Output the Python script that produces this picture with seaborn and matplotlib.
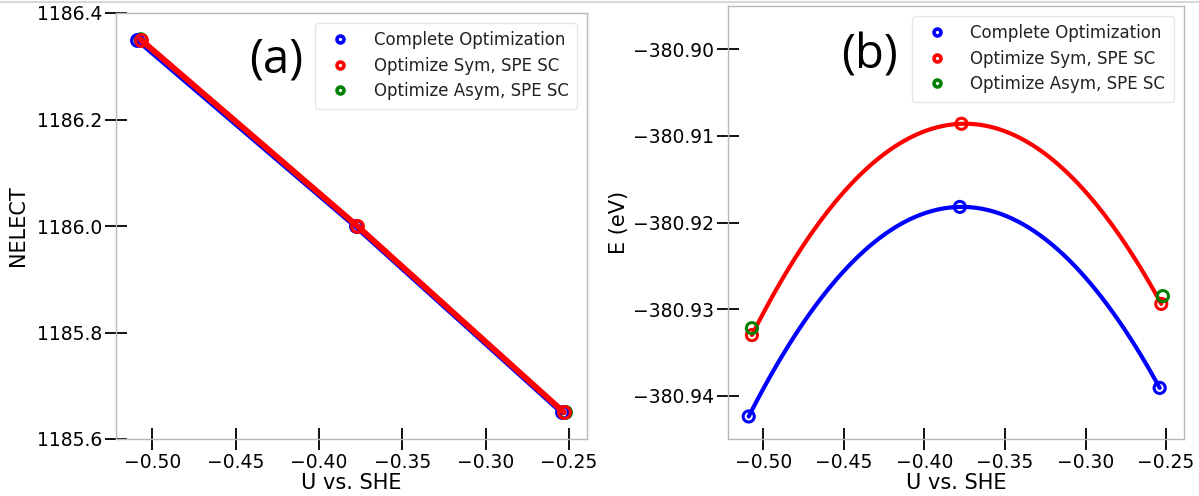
import numpy as np
import pandas as pd
import seaborn as sns
import matplotlib
matplotlib.use("Agg")
import matplotlib.pyplot as plt
from matplotlib.lines import Line2D

# ---- data ----
series_names = ["Complete Optimization", "Optimize Sym, SPE SC", "Optimize Asym, SPE SC"]
series_colors = ["blue", "red", "green"]

u_complete = [-0.509, -0.378, -0.254]
u_sym = [-0.507, -0.377, -0.253]
u_asym = [-0.507, -0.252]

nelect_complete = [1186.35, 1186.00, 1185.65]
nelect_sym = [1186.35, 1186.00, 1185.65]
nelect_asym = [1186.35, 1185.65]

e_complete = [-380.9424, -380.9182, -380.9391]
e_sym = [-380.9330, -380.9086, -380.9294]
e_asym = [-380.9322, -380.9285]

x_ticks = [-0.50, -0.45, -0.40, -0.35, -0.30, -0.25]
x_ticklabels = ["\u22120.50", "\u22120.45", "\u22120.40", "\u22120.35", "\u22120.30", "\u22120.25"]
a_yticks = [1185.6, 1185.8, 1186.0, 1186.2, 1186.4]
b_yticks = [-380.94, -380.93, -380.92, -380.91, -380.90]
b_yticklabels = ["\u2212380.94", "\u2212380.93", "\u2212380.92", "\u2212380.91", "\u2212380.90"]

sns.set_theme(style="white")
plt.rcParams['font.family'] = ['DejaVu Sans']
plt.rcParams['text.color'] = 'black'
plt.rcParams['axes.labelcolor'] = 'black'
plt.rcParams['xtick.color'] = 'black'
plt.rcParams['ytick.color'] = 'black'

fig = plt.figure(figsize=(11.99, 4.96), dpi=100)
axA = fig.add_axes([116/1199, 1-439/496, (587-116)/1199, (439-13)/496])
axB = fig.add_axes([728/1199, 1-439/496, (1183.6-728)/1199, (439-6)/496])

ms = 8.5
mew = 2.2

# ---- panel (a) ----
dfs_a = [
    pd.DataFrame({"U": u_complete, "N": nelect_complete}),
    pd.DataFrame({"U": u_sym, "N": nelect_sym}),
]
for df, c in zip(dfs_a, series_colors[:2]):
    sns.lineplot(data=df, x="U", y="N", ax=axA, color=c, linewidth=4.2,
                 marker="o", markersize=ms, markerfacecolor="none",
                 markeredgecolor=c, markeredgewidth=mew, sort=False)
sns.scatterplot(x=u_asym, y=nelect_asym, ax=axA, marker="o", s=ms**2,
                facecolor="none", edgecolor="green", linewidth=mew, zorder=1.5)
axA.set_ylim(1185.6, 1186.4)
axA.set_yticks(a_yticks)
axA.set_ylabel("NELECT", fontsize=15, labelpad=6)
axA.text(0.34, 0.89, "(a)", transform=axA.transAxes, fontsize=34,
         family=["Open Sans", "DejaVu Sans"], ha="center", va="center")

# ---- panel (b) ----
for xs, ys, c in [(u_complete, e_complete, "blue"), (u_sym, e_sym, "red")]:
    sns.regplot(x=np.array(xs), y=np.array(ys), order=2, ci=None, scatter=False,
                ax=axB, color=c, line_kws=dict(linewidth=3, color=c), truncate=True)
for xs, ys, c in [(u_complete, e_complete, "blue"), (u_sym, e_sym, "red"), (u_asym, e_asym, "green")]:
    sns.scatterplot(x=xs, y=ys, ax=axB, marker="o", s=(ms - 0.5)**2, facecolor="none",
                    edgecolor=c, linewidth=mew, zorder=3)
axB.set_ylim(-380.945, -380.895)
axB.set_yticks(b_yticks)
axB.set_yticklabels(b_yticklabels)
axB.set_ylabel("E (eV)", fontsize=15, labelpad=3)
axB.text(0.31, 0.885, "(b)", transform=axB.transAxes, fontsize=34,
         family=["Open Sans", "DejaVu Sans"], ha="center", va="center")

for ax in (axA, axB):
    ax.set_xticks(x_ticks)
    ax.set_xticklabels(x_ticklabels)
    ax.set_xlabel("U vs. SHE", fontsize=15, labelpad=1)
    ax.tick_params(axis="both", which="major", direction="inout", length=16, width=1.3,
                   color="black", labelsize=13.5, pad=2, bottom=True, left=True)
    for sp in ax.spines.values():
        sp.set_color("#b8b8b8")
        sp.set_linewidth(1.0)
    handles = [Line2D([0], [0], marker="o", linestyle="none", markersize=5,
                      markerfacecolor="white", markeredgecolor=c, markeredgewidth=2.6)
               for c in series_colors]
    leg = ax.legend(handles, series_names, loc="upper right", fontsize=12,
                    frameon=True, handletextpad=1.0, borderpad=0.5, labelspacing=0.45,
                    borderaxespad=0.6)
    leg.get_frame().set_edgecolor("#e0e0e0")
    for t in leg.get_texts():
        t.set_color("#222222")

fig.add_artist(Line2D([0, 1], [1 - 2/496, 1 - 2/496], transform=fig.transFigure,
                      color="#d8d8d8", linewidth=1.5))

fig.savefig("out.png", dpi=100)
